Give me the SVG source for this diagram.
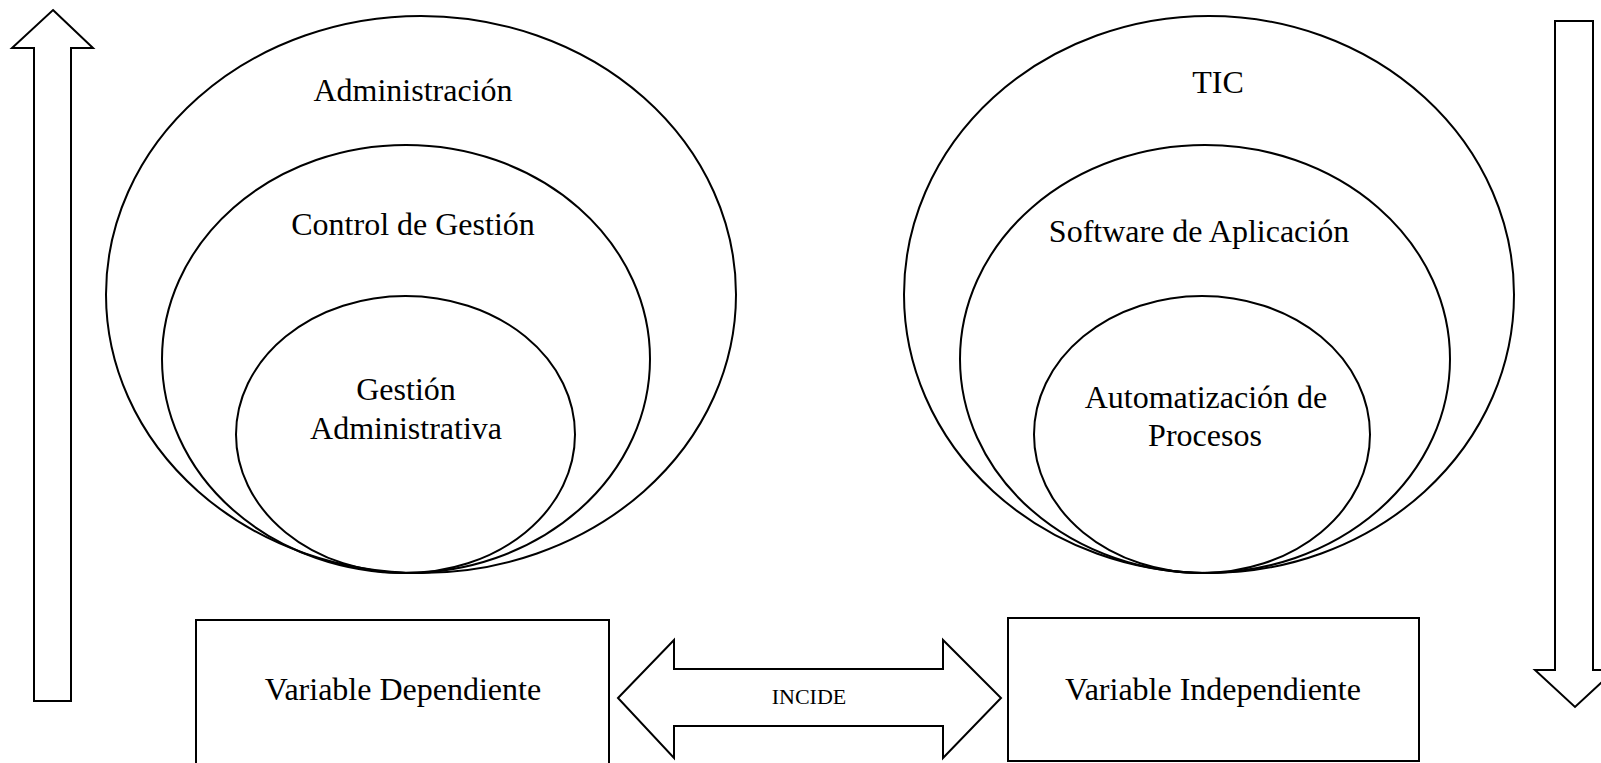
<svg xmlns="http://www.w3.org/2000/svg" width="1601" height="763" viewBox="0 0 1601 763">
<style>
.shape{fill:#fff;stroke:#000;stroke-width:2}
.ell{fill:none;stroke:#000;stroke-width:2}
.lbl{font-family:"Liberation Serif","Times New Roman",serif;font-size:32px;fill:#000;text-anchor:middle}
.small{font-family:"Liberation Serif","Times New Roman",serif;font-size:22px;fill:#000;text-anchor:middle}
</style>
<rect width="1601" height="763" fill="#fff"/>
<g id="left-set">
  <ellipse class="ell" cx="421" cy="294.5" rx="315" ry="278.5"/>
  <ellipse class="ell" cx="406" cy="359" rx="244" ry="214"/>
  <ellipse class="ell" cx="405.5" cy="434.5" rx="169.5" ry="138.5"/>
</g>
<g id="administracion"><text class="lbl" x="413" y="101">Administración</text></g>
<g id="control-gestion"><text class="lbl" x="413" y="235">Control de Gestión</text></g>
<g id="gestion-administrativa"><text class="lbl" x="406" y="400">Gestión</text><text class="lbl" x="406" y="439">Administrativa</text></g>
<g id="right-set">
  <ellipse class="ell" cx="1209" cy="294.5" rx="305" ry="278.5"/>
  <ellipse class="ell" cx="1205" cy="359" rx="245" ry="214"/>
  <ellipse class="ell" cx="1202" cy="434.5" rx="168" ry="138.5"/>
</g>
<g id="tic"><text class="lbl" x="1218" y="93">TIC</text></g>
<g id="software"><text class="lbl" x="1199" y="242">Software de Aplicación</text></g>
<g id="automatizacion"><text class="lbl" x="1206" y="408">Automatización de</text><text class="lbl" x="1205" y="446">Procesos</text></g>
<g id="variable-dependiente">
  <rect class="shape" x="196" y="620" width="413" height="150"/>
  <text class="lbl" x="403" y="700">Variable Dependiente</text>
</g>
<g id="variable-independiente">
  <rect class="shape" x="1008" y="618" width="411" height="143"/>
  <text class="lbl" x="1213" y="700">Variable Independiente</text>
</g>
<g id="connectors">
  <polygon class="shape" points="618,698 674,640 674,669 943,669 943,640 1001,698 943,758 943,726 674,726 674,758"/>
  <text class="small" x="809" y="704">INCIDE</text>
  <polygon class="shape" points="53,10 93,48 71,48 71,701 34,701 34,48 12,48"/>
  <polygon class="shape" points="1555,21 1593,21 1593,670 1615,670 1575,707 1535,670 1555,670"/>
</g>
</svg>
